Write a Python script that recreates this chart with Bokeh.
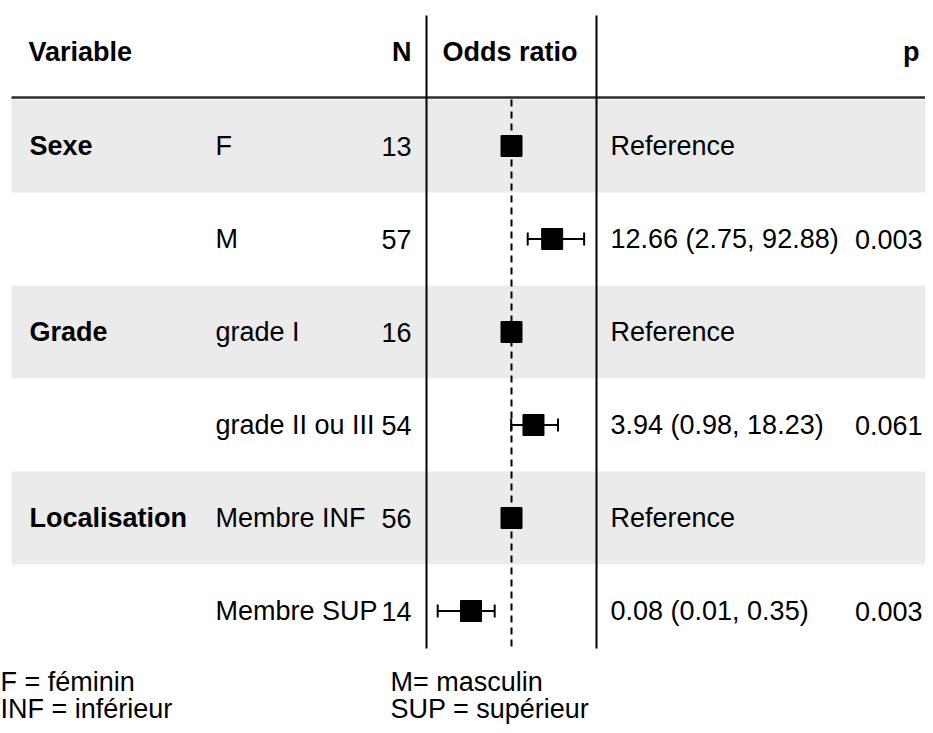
from bokeh.plotting import figure
from bokeh.models import Range1d, LogScale, ColumnDataSource
from bokeh.core.properties import value
from bokeh.embed import file_html
from bokeh.resources import INLINE

# ---- data ----
variables = ["Sexe", "", "Grade", "", "Localisation", ""]
levels = ["F", "M", "grade  I", "grade II ou III", "Membre INF", "Membre SUP"]
n_obs = [13, 57, 16, 54, 56, 14]
odds = [1.0, 12.66, 1.0, 3.94, 1.0, 0.08]
ci_low = [None, 2.75, None, 0.98, None, 0.01]
ci_high = [None, 92.88, None, 18.23, None, 0.35]
or_labels = ["Reference", "12.66 (2.75, 92.88)", "Reference",
             "3.94 (0.98, 18.23)", "Reference", "0.08 (0.01, 0.35)"]
p_labels = ["", "0.003", "", "0.061", "", "0.003"]
headers = ["Variable", "N", "Odds ratio", "p"]
footnotes_left = ["F = féminin", "INF = inférieur"]
footnotes_right = ["M= masculin", "SUP = supérieur"]

# ---- layout (pixel-like coordinates) ----
FONT = value("Liberation Sans")
FS = "27px"
ROW_TOP = 99.0
ROW_H = 93.0
nrows = len(levels)
yc = [ROW_TOP + ROW_H * (i + 0.5) for i in range(nrows)]

W, H = 925, 725
X0, X1 = 0.0, float(W)
OR_ONE_X = 511.0
PX_PER_DECADE = 36.9

p = figure(width=W, height=H, output_backend="svg", toolbar_location=None,
           x_range=Range1d(X0, X1), y_range=Range1d(H, 0),
           x_axis_location=None, y_axis_location=None, min_border=0)
p.outline_line_color = None
p.xgrid.visible = False
p.ygrid.visible = False
p.background_fill_color = "white"
p.border_fill_color = "white"
p.extra_x_ranges = {"or": Range1d(10 ** ((X0 - OR_ONE_X) / PX_PER_DECADE),
                                  10 ** ((X1 - OR_ONE_X) / PX_PER_DECADE))}
p.extra_x_scales = {"or": LogScale()}

# gray bands
band_rows = [i for i in range(nrows) if i % 2 == 0]
p.quad(left=[11] * len(band_rows), right=[X1] * len(band_rows),
       top=[ROW_TOP + ROW_H * i for i in band_rows],
       bottom=[ROW_TOP + ROW_H * (i + 1) for i in band_rows],
       fill_color="#ebebeb", line_color=None)

# header rule
p.segment(x0=[11], y0=[97], x1=[X1], y1=[97], line_color="#2b2b2b", line_width=2.5)

# vertical separators
p.segment(x0=[426, 596], y0=[15, 15], x1=[426, 596], y1=[648, 648],
          line_color="black", line_width=2)

# reference line at OR = 1
p.segment(x0=[1.0], y0=[ROW_TOP], x1=[1.0], y1=[650], x_range_name="or",
          line_color="black", line_width=2, line_dash="7 5")

# confidence intervals
ci_rows = [i for i in range(nrows) if ci_low[i] is not None]
ci_src = ColumnDataSource(dict(
    lo=[ci_low[i] for i in ci_rows], hi=[ci_high[i] for i in ci_rows],
    y=[yc[i] for i in ci_rows],
    ytop=[yc[i] - 6.5 for i in ci_rows], ybot=[yc[i] + 6.5 for i in ci_rows]))
p.segment(x0="lo", y0="y", x1="hi", y1="y", source=ci_src, x_range_name="or",
          line_color="black", line_width=2)
p.segment(x0="lo", y0="ytop", x1="lo", y1="ybot", source=ci_src, x_range_name="or",
          line_color="black", line_width=2)
p.segment(x0="hi", y0="ytop", x1="hi", y1="ybot", source=ci_src, x_range_name="or",
          line_color="black", line_width=2)

# point estimates
p.scatter(x=odds, y=yc, x_range_name="or", marker="square", size=21,
          fill_color="black", line_color="black", line_width=1)

# header texts
hdr_y = 51
common = dict(text_font=FONT, text_font_size=FS, text_baseline="middle", text_color="black")
p.text(x=[28], y=[hdr_y], text=[headers[0]], text_font_style="bold", text_align="left", **common)
p.text(x=[411], y=[hdr_y], text=[headers[1]], text_font_style="bold", text_align="right", **common)
p.text(x=[442], y=[hdr_y], text=[headers[2]], text_font_style="bold", text_align="left", **common)
p.text(x=[919], y=[hdr_y], text=[headers[3]], text_font_style="bold", text_align="right", **common)

# body texts
p.text(x=[29] * nrows, y=yc, text=variables, text_font_style="bold", text_align="left", **common)
p.text(x=[215] * nrows, y=yc, text=levels, text_align="left", **common)
p.text(x=[411] * nrows, y=yc, text=[str(v) for v in n_obs], text_align="right", **common)
p.text(x=[610] * nrows, y=yc, text=or_labels, text_align="left", **common)
p.text(x=[922] * nrows, y=yc, text=p_labels, text_align="right", **common)

# footnotes
fy = [681, 708]
p.text(x=[0, 0], y=fy, text=footnotes_left, text_align="left", **common)
p.text(x=[390, 390], y=fy, text=footnotes_right, text_align="left", **common)

open("out.html", "w").write(file_html(p, INLINE))
